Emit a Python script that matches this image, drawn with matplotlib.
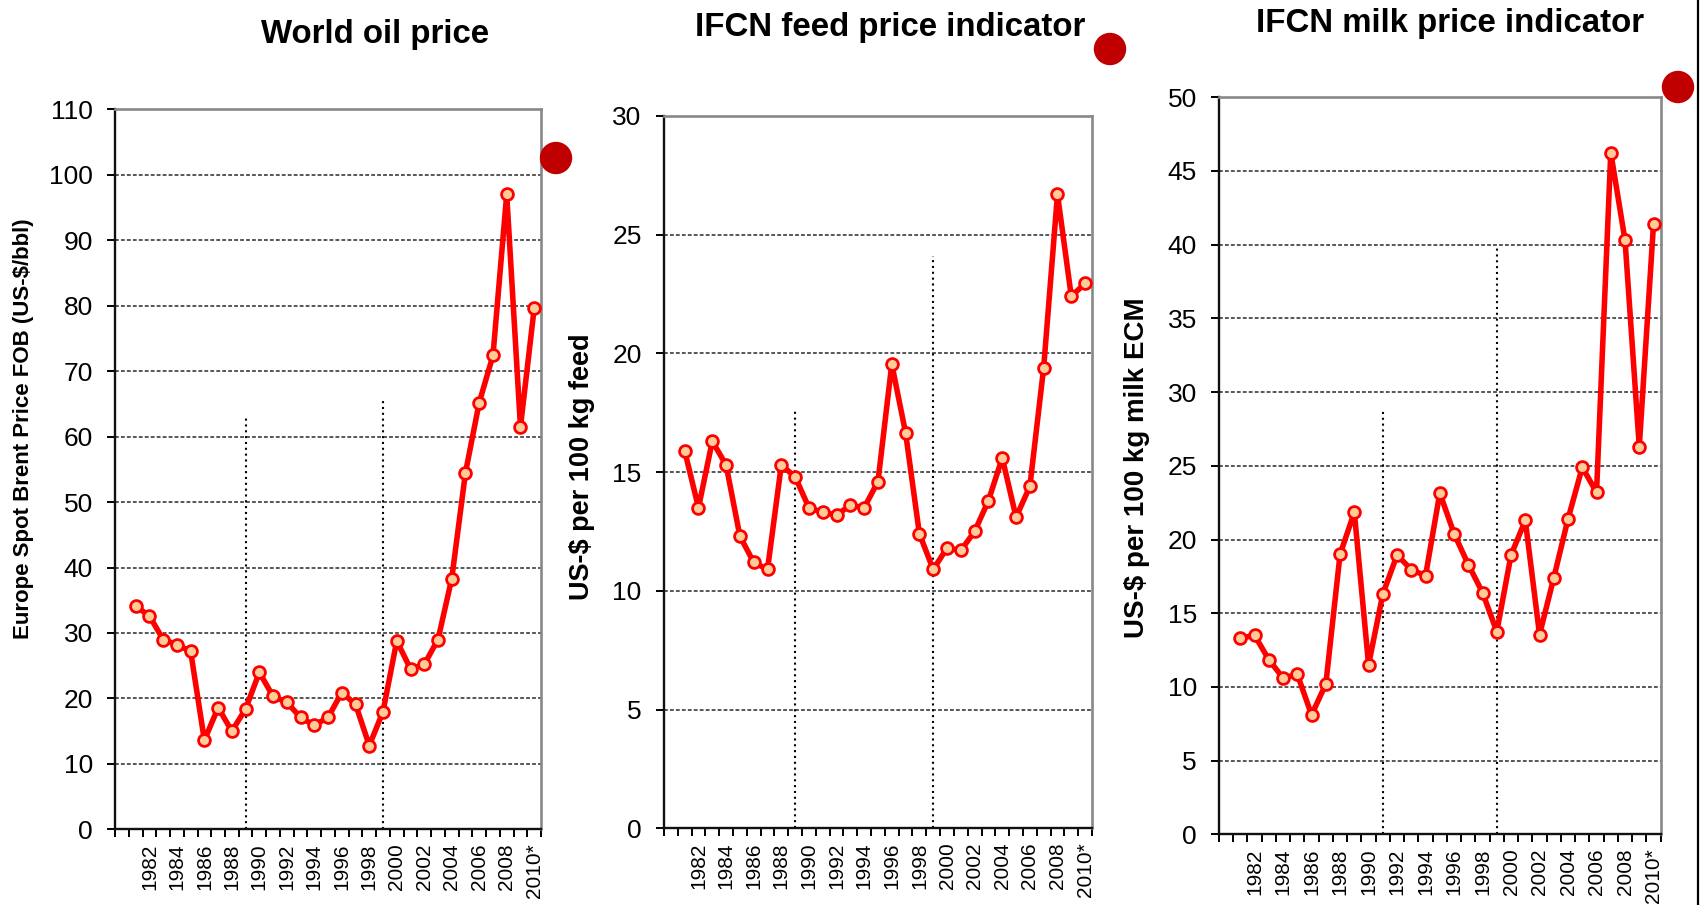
import matplotlib
matplotlib.use('Agg')
import matplotlib.pyplot as plt
from matplotlib.patches import Circle
from matplotlib.lines import Line2D
import numpy as np

plt.rcParams['font.family'] = ['Liberation Sans', 'DejaVu Sans']

# categories on the x axis (1980 slot is empty)
years = list(range(1980, 2011))
data_years = list(range(1981, 2011))
year_labels = ['1982', '1984', '1986', '1988', '1990', '1992', '1994', '1996',
               '1998', '2000', '2002', '2004', '2006', '2008', '2010*']
label_years = [1982, 1984, 1986, 1988, 1990, 1992, 1994, 1996,
               1998, 2000, 2002, 2004, 2006, 2008, 2010]

oil_price = [34.1, 32.6, 29.0, 28.2, 27.2, 13.6, 18.6, 15.0, 18.4, 24.0,
             20.3, 19.4, 17.1, 15.9, 17.1, 20.9, 19.1, 12.8, 18.0, 28.8,
             24.5, 25.2, 29.0, 38.3, 54.5, 65.2, 72.4, 97.0, 61.5, 79.6]
feed_price = [15.9, 13.5, 16.3, 15.3, 12.3, 11.2, 10.9, 15.3, 14.8, 13.5,
              13.3, 13.2, 13.6, 13.5, 14.6, 19.55, 16.65, 12.4, 10.9, 11.8,
              11.7, 12.5, 13.8, 15.6, 13.1, 14.4, 19.4, 26.7, 22.4, 22.95]
milk_price = [13.3, 13.5, 11.85, 10.6, 10.85, 8.1, 10.2, 19.0, 21.85, 11.5,
              16.3, 18.95, 17.95, 17.55, 23.15, 20.4, 18.3, 16.4, 13.75, 18.95,
              21.3, 13.55, 17.4, 21.4, 24.9, 23.2, 46.25, 40.3, 26.3, 41.4]

# dotted vertical markers (year, height reached)
oil_marks = [(1989, 63), (1999, 65.5)]
feed_marks = [(1989, 17.6), (1999, 24.1)]
milk_marks = [(1991, 28.7), (1999, 39.9)]

panels = [
    dict(title='World oil price', values=oil_price, marks=oil_marks,
         ymax=110, ystep=10, ylabel='Europe Spot Brent Price FOB (US-$/bbl)',
         rect=[0.0676, 0.0836, 0.2503, 0.7956], title_xy=(0.2203, 0.9528),
         ylabel_xy=(0.0141, 0.5265), ylabel_size=16, dot=(556, 158)),
    dict(title='IFCN feed price indicator', values=feed_price, marks=feed_marks,
         ymax=30, ystep=5, ylabel='US-$ per 100 kg feed',
         rect=[0.3901, 0.0848, 0.2515, 0.7871], title_xy=(0.5232, 0.9602),
         ylabel_xy=(0.3420, 0.4840), ylabel_size=19.5, dot=(1110, 49)),
    dict(title='IFCN milk price indicator', values=milk_price, marks=milk_marks,
         ymax=50, ystep=5, ylabel='US-$ per 100 kg milk ECM',
         rect=[0.7162, 0.0781, 0.2595, 0.8144], title_xy=(0.8519, 0.9643),
         ylabel_xy=(0.6680, 0.4834), ylabel_size=20, dot=(1678, 87)),
]

fig = plt.figure(figsize=(17.02, 9.05), dpi=100)

x_data = [years.index(y) for y in data_years]
x_lab = [years.index(y) for y in label_years]
edges = np.arange(-0.5, len(years), 1.0)

for p in panels:
    ax = fig.add_axes(p['rect'])
    ax.set_xlim(-0.5, len(years) - 0.5)
    ax.set_ylim(0, p['ymax'])

    yt = np.arange(0, p['ymax'] + 0.1, p['ystep'])
    ax.set_yticks(yt)
    ax.set_yticklabels([str(int(v)) for v in yt])
    for v in yt[1:-1]:
        ax.axhline(v, color='#2a2a2a', lw=1.1, ls=(0, (2.5, 1.4)), zorder=1)

    for yr, top in p['marks']:
        xm = years.index(yr)
        ax.plot([xm, xm], [0, top], color='black', lw=1.5, ls=(0, (1, 1.8)), zorder=1)

    ax.plot(x_data, p['values'], color='#ff0000', lw=4.0, marker='o', ms=8.5,
            mfc='#ffcc99', mec='#ff0000', mew=2.0, zorder=3, clip_on=False)

    ax.set_xticks(edges)
    ax.set_xticklabels([])
    ax.set_xticks(x_lab, minor=True)
    ax.set_xticklabels(year_labels, minor=True, rotation=90, fontsize=15)
    ax.tick_params(axis='x', which='major', direction='out', length=5.5, width=1.4)
    ax.tick_params(axis='x', which='minor', length=0, pad=10)
    ax.tick_params(axis='y', direction='out', length=6, width=1.4, pad=10, labelsize=19)

    for s in ['left', 'bottom']:
        ax.spines[s].set_color('#111111')
        ax.spines[s].set_linewidth(1.7)
    for s in ['top', 'right']:
        ax.spines[s].set_color('#888888')
        ax.spines[s].set_linewidth(1.9)

    fig.text(p['title_xy'][0], p['title_xy'][1], p['title'], fontsize=23.8,
             fontweight='bold', ha='center', va='baseline')
    fig.text(p['ylabel_xy'][0], p['ylabel_xy'][1], p['ylabel'], rotation=90,
             fontsize=p['ylabel_size'], fontweight='bold', ha='center', va='center')

    # dark red bullet next to each panel
    dx, dy = p['dot']
    fig.add_artist(Circle((dx / 100, (905 - dy) / 100), 0.155, color='#c00000',
                          transform=fig.dpi_scale_trans, zorder=5))

fig.add_artist(Line2D([1698 / 1702, 1698 / 1702], [0, 1], color='black', lw=1.6,
                      transform=fig.transFigure))

plt.savefig('out.png', dpi=100)
